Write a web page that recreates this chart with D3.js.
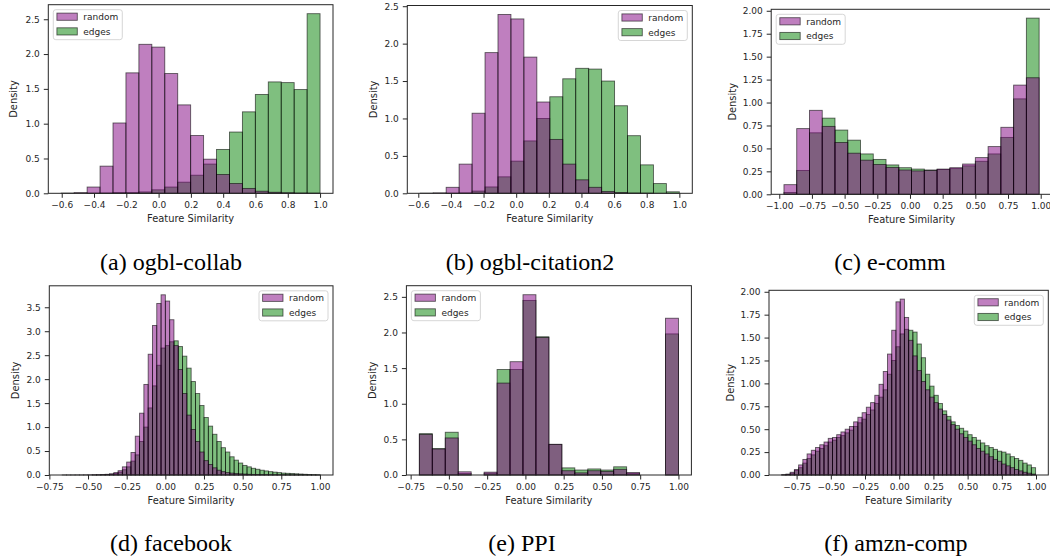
<!DOCTYPE html>
<html><head><meta charset="utf-8">
<script src="https://cdn.jsdelivr.net/npm/d3@7"></script>
<style>
body{margin:0;background:#fff}
svg{display:block}
</style>
</head><body>
<svg id="chart" width="1050" height="560"></svg>
<script>
// ---------------- DATA ----------------
const captions = ["(a) ogbl-collab", "(b) ogbl-citation2", "(c) e-comm", "(d) facebook", "(e) PPI", "(f) amzn-comp"];
const seriesNames = ["random", "edges"];
const xLabel = "Feature Similarity";
const yLabel = "Density";

// histogram bin range (lowest edge, highest edge) per panel
const binLo = [-0.603, -0.588, -0.964, -0.667, -0.693, -0.859];
const binHi = [1.0, 1.0, 0.988, 1.001, 1.0, 0.997];

// (a) ogbl-collab, 20 bins
const randomA = [0.003, 0.01, 0.09, 0.39, 1.01, 1.73, 2.14, 2.10, 1.72, 1.27, 0.83, 0.49, 0.27, 0.14, 0.07, 0.03, 0.015, 0.008, 0.003, 0.001];
const edgesA  = [0, 0, 0.002, 0.004, 0.01, 0.01, 0.02, 0.05, 0.09, 0.16, 0.26, 0.42, 0.63, 0.88, 1.17, 1.42, 1.60, 1.59, 1.49, 2.58];

// (b) ogbl-citation2, 20 bins
const randomB = [0.002, 0.006, 0.08, 0.39, 1.07, 1.88, 2.39, 2.33, 1.82, 1.22, 0.72, 0.39, 0.18, 0.08, 0.025, 0.01, 0.003, 0.001, 0, 0];
const edgesB  = [0, 0, 0.001, 0.005, 0.03, 0.085, 0.22, 0.43, 0.70, 1.00, 1.29, 1.53, 1.67, 1.66, 1.50, 1.17, 0.77, 0.38, 0.13, 0.02];

// (c) e-comm, 20 bins
const randomC = [0.105, 0.716, 0.915, 0.74, 0.564, 0.448, 0.372, 0.325, 0.293, 0.265, 0.255, 0.26, 0.275, 0.29, 0.33, 0.40, 0.52, 0.73, 1.19, 1.27];
const edgesC  = [0.02, 0.26, 0.67, 0.83, 0.70, 0.59, 0.44, 0.38, 0.32, 0.29, 0.275, 0.265, 0.27, 0.28, 0.31, 0.36, 0.44, 0.62, 1.04, 1.92];

// (d) facebook, 60 bins
const randomD = [0.001, 0.001, 0.001, 0.002, 0.002, 0.003, 0.004, 0.005, 0.007, 0.01, 0.015, 0.025,
                 0.05, 0.09, 0.17, 0.27, 0.47, 0.81, 1.29, 1.89, 2.52, 3.12, 3.58, 3.76,
                 3.63, 3.24, 2.70, 2.20, 1.70, 1.25, 0.95, 0.70, 0.48, 0.30, 0.22, 0.15,
                 0.10, 0.07, 0.05, 0.04, 0.03, 0.025, 0.02, 0.015, 0.012, 0.01, 0.008, 0.006,
                 0.005, 0.004, 0.003, 0.003, 0.002, 0.002, 0.002, 0.001, 0.001, 0.001, 0.001, 0.001];
const edgesD  = [0, 0, 0, 0, 0, 0, 0, 0.001, 0.002, 0.004, 0.008, 0.015,
                 0.03, 0.06, 0.11, 0.17, 0.29, 0.42, 0.70, 1.00, 1.40, 1.86, 2.29, 2.65,
                 2.70, 2.78, 2.80, 2.68, 2.48, 2.23, 1.95, 1.70, 1.45, 1.20, 1.02, 0.85,
                 0.70, 0.57, 0.48, 0.38, 0.31, 0.25, 0.20, 0.17, 0.14, 0.12, 0.10, 0.085,
                 0.07, 0.06, 0.05, 0.04, 0.035, 0.03, 0.025, 0.02, 0.015, 0.01, 0.007, 0.004];

// (e) PPI, 20 bins
const randomE = [0.57, 0.365, 0.52, 0.045, 0, 0.04, 1.29, 1.59, 2.53, 1.93, 0.43, 0.06, 0.03, 0.06, 0.05, 0.08, 0.035, 0, 0, 2.20];
const edgesE  = [0.58, 0.37, 0.60, 0.02, 0, 0.025, 1.48, 1.48, 2.45, 1.94, 0.43, 0.10, 0.07, 0.085, 0.07, 0.115, 0.02, 0, 0, 1.98];

// (f) amzn-comp, 60 bins
const randomF = [0.003, 0.01, 0.03, 0.06, 0.11, 0.17, 0.23, 0.27, 0.30, 0.33, 0.36, 0.40,
                 0.41, 0.44, 0.47, 0.50, 0.53, 0.58, 0.63, 0.68, 0.74, 0.79, 0.87, 0.99,
                 1.13, 1.32, 1.58, 1.89, 1.92, 1.72, 1.47, 1.30, 1.14, 1.02, 0.93, 0.85,
                 0.79, 0.72, 0.66, 0.60, 0.55, 0.50, 0.45, 0.41, 0.37, 0.33, 0.29, 0.26,
                 0.23, 0.20, 0.17, 0.15, 0.12, 0.10, 0.08, 0.06, 0.045, 0.03, 0.02, 0.01];
const edgesF  = [0.002, 0.005, 0.02, 0.05, 0.08, 0.13, 0.18, 0.22, 0.26, 0.29, 0.32, 0.36,
                 0.38, 0.41, 0.43, 0.46, 0.49, 0.53, 0.57, 0.61, 0.66, 0.71, 0.78, 0.85,
                 0.93, 1.10, 1.25, 1.40, 1.54, 1.59, 1.58, 1.56, 1.43, 1.28, 1.10, 0.97,
                 0.87, 0.78, 0.70, 0.64, 0.58, 0.54, 0.51, 0.48, 0.44, 0.41, 0.38, 0.35,
                 0.32, 0.30, 0.28, 0.26, 0.25, 0.23, 0.20, 0.18, 0.16, 0.13, 0.11, 0.08];

// tick values
const xTicksAB = [-0.6, -0.4, -0.2, 0.0, 0.2, 0.4, 0.6, 0.8, 1.0];
const yTicksAB = [0, 0.5, 1.0, 1.5, 2.0, 2.5];
const xTicksC  = [-1.0, -0.75, -0.5, -0.25, 0, 0.25, 0.5, 0.75, 1.0];
const yTicksCF = [0, 0.25, 0.5, 0.75, 1.0, 1.25, 1.5, 1.75, 2.0];
const xTicksDE = [-0.75, -0.5, -0.25, 0, 0.25, 0.5, 0.75, 1.0];
const yTicksD  = [0, 0.5, 1.0, 1.5, 2.0, 2.5, 3.0, 3.5];
const yTicksE  = [0, 0.5, 1.0, 1.5, 2.0, 2.5];
const xTicksF  = [-0.75, -0.5, -0.25, 0, 0.25, 0.5, 0.75, 1.0];

// ---------------- LAYOUT / STYLE ----------------
const randomSeries = [randomA, randomB, randomC, randomD, randomE, randomF];
const edgesSeries  = [edgesA, edgesB, edgesC, edgesD, edgesE, edgesF];
const xTickSets = [xTicksAB, xTicksAB, xTicksC, xTicksDE, xTicksDE, xTicksF];
const yTickSets = [yTicksAB, yTicksAB, yTicksCF, yTicksD, yTicksE, yTicksCF];
const xFormats = [".1f", ".1f", ".2f", ".2f", ".2f", ".2f"];
const yFormats = [".1f", ".1f", ".2f", ".1f", ".1f", ".2f"];

const boxes = [
  {left: 48.3,  top: 4.7,   width: 284.7, height: 188.6, legend: "ul", ylabOff: 31.5, capX: 171, capY: 270},
  {left: 407.3, top: 5.5,   width: 285,   height: 187.8, legend: "ur", ylabOff: 30,   capX: 530, capY: 270},
  {left: 771.2, top: 9.3,   width: 280.7, height: 185,   legend: "ul", ylabOff: 35,   capX: 890, capY: 270},
  {left: 49.3,  top: 285.8, width: 283.7, height: 189.2, legend: "ur", ylabOff: 30.6, capX: 171, capY: 551},
  {left: 406.4, top: 285.7, width: 285,   height: 189.3, legend: "ul", ylabOff: 30.5, capX: 522, capY: 551},
  {left: 769,   top: 290.3, width: 279.3, height: 184.7, legend: "ur", ylabOff: 35,   capX: 896, capY: 551}
];

const FONT = "'DejaVu Sans', sans-serif";
const INK = "#262626";
const colors = {random: "purple", edges: "green"};

const svg = d3.select("#chart");
svg.append("rect").attr("width", 1050).attr("height", 560).attr("fill", "#fff");

boxes.forEach((b, p) => {
  const lo = binLo[p], hi = binHi[p];
  const rnd = randomSeries[p], edg = edgesSeries[p];
  const n = rnd.length;
  const bw = (hi - lo) / n;
  const pad = 0.05 * (hi - lo);
  const ymax = d3.max(rnd.concat(edg)) * 1.05;

  const x = d3.scaleLinear().domain([lo - pad, hi + pad]).range([b.left, b.left + b.width]);
  const y = d3.scaleLinear().domain([0, ymax]).range([b.top + b.height, b.top]);
  const bottom = b.top + b.height;

  const g = svg.append("g");

  // bars: edges first, random on top
  [["edges", edg], ["random", rnd]].forEach(([key, vals]) => {
    g.append("g").selectAll("rect").data(vals).join("rect")
      .attr("x", (d, i) => x(lo + i * bw))
      .attr("width", (d, i) => x(lo + (i + 1) * bw) - x(lo + i * bw))
      .attr("y", d => y(d))
      .attr("height", d => y(0) - y(d))
      .attr("fill", colors[key])
      .attr("fill-opacity", 0.5)
      .attr("stroke", "#000")
      .attr("stroke-opacity", 0.6)
      .attr("stroke-width", 0.9);
  });

  // axes
  const xAxis = d3.axisBottom(x).tickValues(xTickSets[p]).tickFormat(d3.format(xFormats[p]))
    .tickSize(4.5).tickPadding(4);
  const yAxis = d3.axisLeft(y).tickValues(yTickSets[p]).tickFormat(d3.format(yFormats[p]))
    .tickSize(4.5).tickPadding(4);

  const gx = g.append("g").attr("transform", `translate(0,${bottom})`).call(xAxis);
  const gy = g.append("g").attr("transform", `translate(${b.left},0)`).call(yAxis);
  [gx, gy].forEach(ax => {
    ax.select(".domain").remove();
    ax.attr("font-family", FONT).attr("font-size", 9);
    ax.selectAll(".tick line").attr("stroke", INK).attr("stroke-width", 1);
    ax.selectAll(".tick text").attr("fill", INK);
  });

  // frame
  g.append("rect")
    .attr("x", b.left).attr("y", b.top).attr("width", b.width).attr("height", b.height)
    .attr("fill", "none").attr("stroke", INK).attr("stroke-width", 1);

  // axis labels
  g.append("text")
    .attr("x", b.left + b.width / 2).attr("y", bottom + 29)
    .attr("text-anchor", "middle").attr("font-family", FONT).attr("font-size", 9.9)
    .attr("fill", INK).text(xLabel);
  g.append("text")
    .attr("transform", `translate(${b.left - b.ylabOff},${b.top + b.height / 2}) rotate(-90)`)
    .attr("text-anchor", "middle").attr("font-family", FONT).attr("font-size", 9.9)
    .attr("fill", INK).text(yLabel);

  // legend
  const lw = 69, lh = 30;
  const lx = b.legend === "ul" ? b.left + 5 : b.left + b.width - 5 - lw;
  const ly = b.top + 5;
  const lg = g.append("g").attr("transform", `translate(${lx},${ly})`);
  lg.append("rect").attr("width", lw).attr("height", lh).attr("rx", 2.5)
    .attr("fill", "#fff").attr("fill-opacity", 0.8).attr("stroke", "#ccc").attr("stroke-width", 0.8);
  seriesNames.forEach((s, i) => {
    lg.append("rect").attr("x", 3.6).attr("y", 3.4 + i * 14.7).attr("width", 20.4).attr("height", 7.2)
      .attr("fill", colors[s]).attr("fill-opacity", 0.5)
      .attr("stroke", "#000").attr("stroke-opacity", 0.6).attr("stroke-width", 0.9);
    lg.append("text").attr("x", 30).attr("y", 10.3 + i * 14.7)
      .attr("font-family", FONT).attr("font-size", 9).attr("fill", INK).text(s);
  });

  // caption
  svg.append("text").attr("x", b.capX).attr("y", b.capY)
    .attr("text-anchor", "middle").attr("font-family", "'Liberation Serif', 'Times New Roman', serif")
    .attr("font-size", 24).attr("fill", "#000").text(captions[p]);
});
</script>
</body></html>
